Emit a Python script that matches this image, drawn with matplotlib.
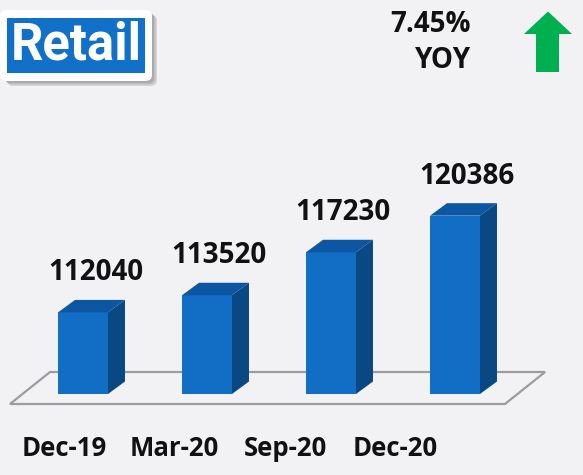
import matplotlib
matplotlib.use("Agg")
import matplotlib.pyplot as plt
from matplotlib.patches import Polygon, FancyBboxPatch, Rectangle
import numpy as np

# ---- data ----
categories = ["Dec-19", "Mar-20", "Sep-20", "Dec-20"]
values = [112040, 113520, 117230, 120386]
title_text = "Retail"
yoy_value = "7.45%"
yoy_label = "YOY"

# ---- style ----
BG = "#f2f2f4"
FRONT = "#116ec4"
TOP = "#0c56a2"
SIDE = "#0a4883"
BLUE_BOX = "#1170c8"
GREEN = "#00b050"
FLOOR = "#9c9c9c"
FONT = ["Open Sans", "DejaVu Sans"]

W, H = 583, 475
fig = plt.figure(figsize=(W / 100, H / 100), dpi=100)
fig.patch.set_facecolor(BG)

def fx(px):
    return px / W

def fy(py):
    return 1 - py / H

base = 105000
top_lim = 125000
ax_left, ax_right = 21, 517
ax_bottom_px, ax_top_px = 394, 394 - (top_lim - base) * 0.01159
ax = fig.add_axes([fx(ax_left), fy(ax_bottom_px), fx(ax_right - ax_left),
                   (ax_bottom_px - ax_top_px) / H])
ax.set_xlim(-0.5, 3.5)
ax.set_ylim(base, top_lim)
ax.axis("off")
ax.patch.set_alpha(0)

x = np.arange(len(values))
w = 0.403
px_per_x = (ax_right - ax_left) / 4.0
units_per_px = (top_lim - base) / (ax_bottom_px - ax_top_px)
dx = 17 / px_per_x
dy = 12.5 * units_per_px

# floor parallelogram
fl_front = base - 10 * units_per_px
fl_back = base + 22 * units_per_px
floor = Polygon([(-0.589, fl_front), (-0.266, fl_back), (3.726, fl_back), (3.403, fl_front)],
                closed=True, fill=False, edgecolor=FLOOR, linewidth=1.6,
                clip_on=False, zorder=1)
ax.add_patch(floor)

heights = [v - base for v in values]
ax.bar(x, heights, bottom=base, width=w, color=FRONT, zorder=3, clip_on=False)
for xi, v in zip(x, values):
    r = xi + w / 2
    l = xi - w / 2
    side = Polygon([(r, base), (r, v), (r + dx, v + dy), (r + dx, base + dy)],
                   closed=True, facecolor=SIDE, edgecolor="none", zorder=2, clip_on=False)
    top = Polygon([(l, v), (r, v), (r + dx, v + dy), (l + dx, v + dy)],
                  closed=True, facecolor=TOP, edgecolor="none", zorder=3, clip_on=False)
    ax.add_patch(side)
    ax.add_patch(top)
    ax.annotate(f"{v}", xy=(xi + 0.1, v + dy), xytext=(0, 9), textcoords="offset points",
                ha="center", va="bottom", fontsize=20, fontweight="bold",
                family=FONT, color="#111111", annotation_clip=False)

# category labels
cat_px = [64, 174, 285, 395]
for c, p in zip(categories, cat_px):
    fig.text(fx(p), fy(449), c, ha="center", va="center", fontsize=18.5,
             fontweight="bold", family=FONT, color="#111111")

# Retail box with shadow
for i, a in enumerate([0.10, 0.10, 0.12]):
    off = 2 + i * 1.5
    sh = FancyBboxPatch((fx(2 + off), fy(81 + off)), fx(150), (71) / H,
                        boxstyle="round,pad=0,rounding_size=0.012",
                        transform=fig.transFigure, facecolor="#000000", alpha=a,
                        edgecolor="none", zorder=0)
    fig.patches.append(sh)
white = FancyBboxPatch((fx(0), fy(81)), fx(152), 71 / H,
                       boxstyle="round,pad=0,rounding_size=0.012",
                       transform=fig.transFigure, facecolor="white", edgecolor="none", zorder=1)
fig.patches.append(white)
blue = Rectangle((fx(7), fy(73)), fx(138), 55.5 / H, transform=fig.transFigure,
                 facecolor=BLUE_BOX, edgecolor="none", zorder=2)
fig.patches.append(blue)
fig.text(fx(76), fy(46), title_text, ha="center", va="center", fontsize=36.5,
         fontweight="bold", family=["Roboto", "Liberation Sans", "DejaVu Sans"],
         color="white", zorder=3)

# YOY text
fig.text(fx(471), fy(24), yoy_value, ha="right", va="center", fontsize=20,
         fontweight="bold", family=FONT, color="#111111")
fig.text(fx(471), fy(61), yoy_label, ha="right", va="center", fontsize=20,
         fontweight="bold", family=FONT, color="#111111")

# green arrow
arrow_pts = [(548, 11.5), (572, 34), (559, 34), (559, 72), (536, 72), (536, 34), (524, 34)]
arrow = Polygon([(fx(a), fy(b)) for a, b in arrow_pts], closed=True,
                transform=fig.transFigure, facecolor=GREEN, edgecolor="none")
fig.patches.append(arrow)

fig.savefig("out.png", dpi=100, facecolor=BG)
